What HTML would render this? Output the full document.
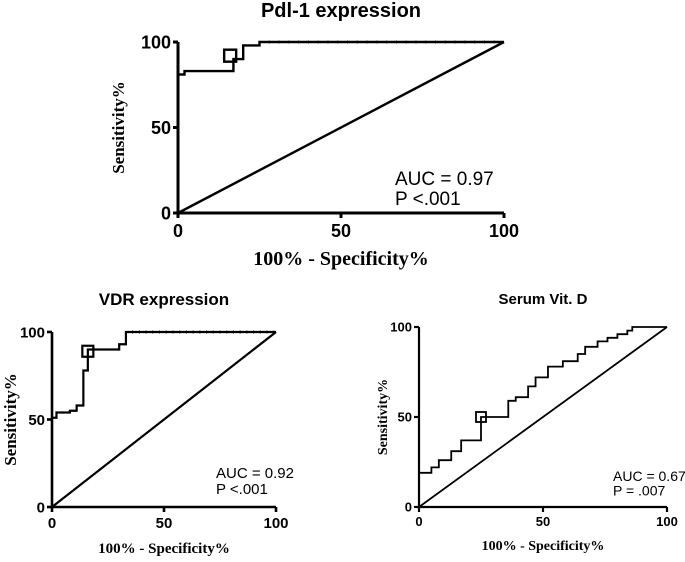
<!DOCTYPE html>
<html><head><meta charset="utf-8"><style>
body{margin:0;background:#fff;}
svg{display:block;}
.t{font-family:"Liberation Sans",Arial,sans-serif;font-weight:bold;fill:#000;}
.tn{font-family:"Liberation Sans",Arial,sans-serif;fill:#000;}
.ax{font-family:"Liberation Serif","Times New Roman",serif;font-weight:bold;fill:#000;}
</style></head><body>
<svg id="c" width="685" height="562" viewBox="0 0 685 562"></svg>
<script>
const pdlFpr=[0,2,2,17,17,20,20,25,25,100];
const pdlSens=[81,81,83,83,90,90,98,98,100,100];
const vdrFpr=[0,2,2,8,8,11,11,14,14,16,16,30,30,33,33,100];
const vdrSens=[51,51,54,54,55,55,58,58,78,78,90,90,93,93,100,100];
const vitFpr=[0,0,5,5,8,8,13,13,17,17,25,25,36,36,39,39,44,44,47,47,52,52,58,58,64,64,67,67,72,72,76,76,80,80,84,84,86,86,100];
const vitSens=[0,19,19,22,22,26,26,31,31,37,37,50,50,59,59,61,61,67,67,72,72,78,78,81,81,85,85,89,89,92,92,94,94,96,96,98,98,100,100];
const ticks=[0,50,100];
const NS="http://www.w3.org/2000/svg";
const svg=document.getElementById('c');
function el(t,a,p){const e=document.createElementNS(NS,t);for(const k in a)e.setAttribute(k,a[k]);(p||svg).appendChild(e);return e;}
function chart(o){
  const g=el('g',{});
  
  
  const sx=v=>o.x0+(o.x1-o.x0)*v/100, sy=v=>o.y0-(o.y0-o.y1)*v/100;
  const tt=el('text',{x:(o.x0+o.x1)/2,y:o.ty,'text-anchor':'middle','font-size':o.tfs,class:'t'},g);tt.textContent=o.title;
  
  
  const d=el('line',{x1:sx(0),y1:sy(0),x2:sx(100),y2:sy(100),stroke:'#000','stroke-width':o.lw},g);
  
  
  let pts=o.fpr.map((f,i)=>sx(f)+','+sy(o.sens[i])).join(' ');
  const c=el('polyline',{points:pts,fill:'none',stroke:'#000','stroke-width':o.lw},g);
  
  
  for(let v=o.dotStart;v<100;v+=3){const m=el('line',{x1:sx(v),y1:sy(100)-1.5,x2:sx(v),y2:sy(100)+1.5,stroke:'#000','stroke-width':1},g);
    
    }
  const s=o.ms;
  const mk=el('rect',{x:sx(o.mx)-s/2,y:sy(o.my)-s/2,width:s,height:s,fill:'none',stroke:'#000','stroke-width':o.lw},g);
  
  
  const a=el('polyline',{points:`${sx(0)},${sy(100)} ${sx(0)},${sy(0)} ${sx(100)},${sy(0)}`,fill:'none',stroke:'#000','stroke-width':o.aw},g);
  
  
  ticks.forEach(v=>{
    el('line',{x1:sx(v),y1:sy(0),x2:sx(v),y2:sy(0)+5,stroke:'#000','stroke-width':o.aw},g);
    el('line',{x1:sx(0)-5,y1:sy(v),x2:sx(0),y2:sy(v),stroke:'#000','stroke-width':o.aw},g);
    const xt=el('text',{x:sx(v),y:sy(0)+o.fs+6,'text-anchor':'middle','font-size':o.fs,class:'t'},g);xt.textContent=v;
    
    
    const yt=el('text',{x:sx(0)-7,y:sy(v)+o.fs*0.36,'text-anchor':'end','font-size':o.fs,class:'t'},g);yt.textContent=v;
    
    
  });
  const xl=el('text',{x:(o.x0+o.x1)/2,y:o.xly,'text-anchor':'middle','font-size':o.lfs,class:'ax'},g);xl.textContent='100% - Specificity%';
  
  
  const yc=(o.y0+o.y1)/2;
  const yl=el('text',{x:o.ylx,y:yc,'text-anchor':'middle','font-size':o.ylfs,class:'ax',transform:`rotate(-90 ${o.ylx} ${yc})`},g);yl.textContent='Sensitivity%';
  
  
  const a1=el('text',{x:o.ax,y:o.ay,'font-size':o.afs,class:'tn'},g);a1.textContent=o.auc;
  
  
  const a2=el('text',{x:o.ax,y:o.ay+o.afs*1.05,'font-size':o.afs,class:'tn'},g);a2.textContent=o.p;
  
  
}
chart({name:'pdl1-roc-chart',title:'Pdl-1 expression',x0:178,x1:504,y0:213,y1:42,ty:17,tfs:20,lw:2.4,aw:3,fpr:pdlFpr,sens:pdlSens,dotStart:28,mx:16,my:92,ms:12,fs:18,lfs:20,ylfs:17,xly:265,ylx:124,ax:395,ay:185,afs:19,auc:'AUC = 0.97',p:'P <.001'});
chart({name:'vdr-roc-chart',title:'VDR expression',x0:52,x1:276,y0:507,y1:332,ty:305,tfs:17,lw:2.2,aw:2.6,fpr:vdrFpr,sens:vdrSens,dotStart:36,mx:16,my:89,ms:11,fs:15,lfs:15,ylfs:17,xly:553,ylx:16,ax:216,ay:478,afs:15,auc:'AUC = 0.92',p:'P <.001'});
chart({name:'vitd-roc-chart',title:'Serum Vit. D',x0:419,x1:667,y0:507,y1:327,ty:304,tfs:15,lw:1.8,aw:2.2,fpr:vitFpr,sens:vitSens,dotStart:200,mx:25,my:50,ms:10,fs:13,lfs:14,ylfs:14,xly:550,ylx:387,ax:613,ay:481,afs:14,auc:'AUC = 0.67',p:'P = .007'});
</script>
</body></html>
